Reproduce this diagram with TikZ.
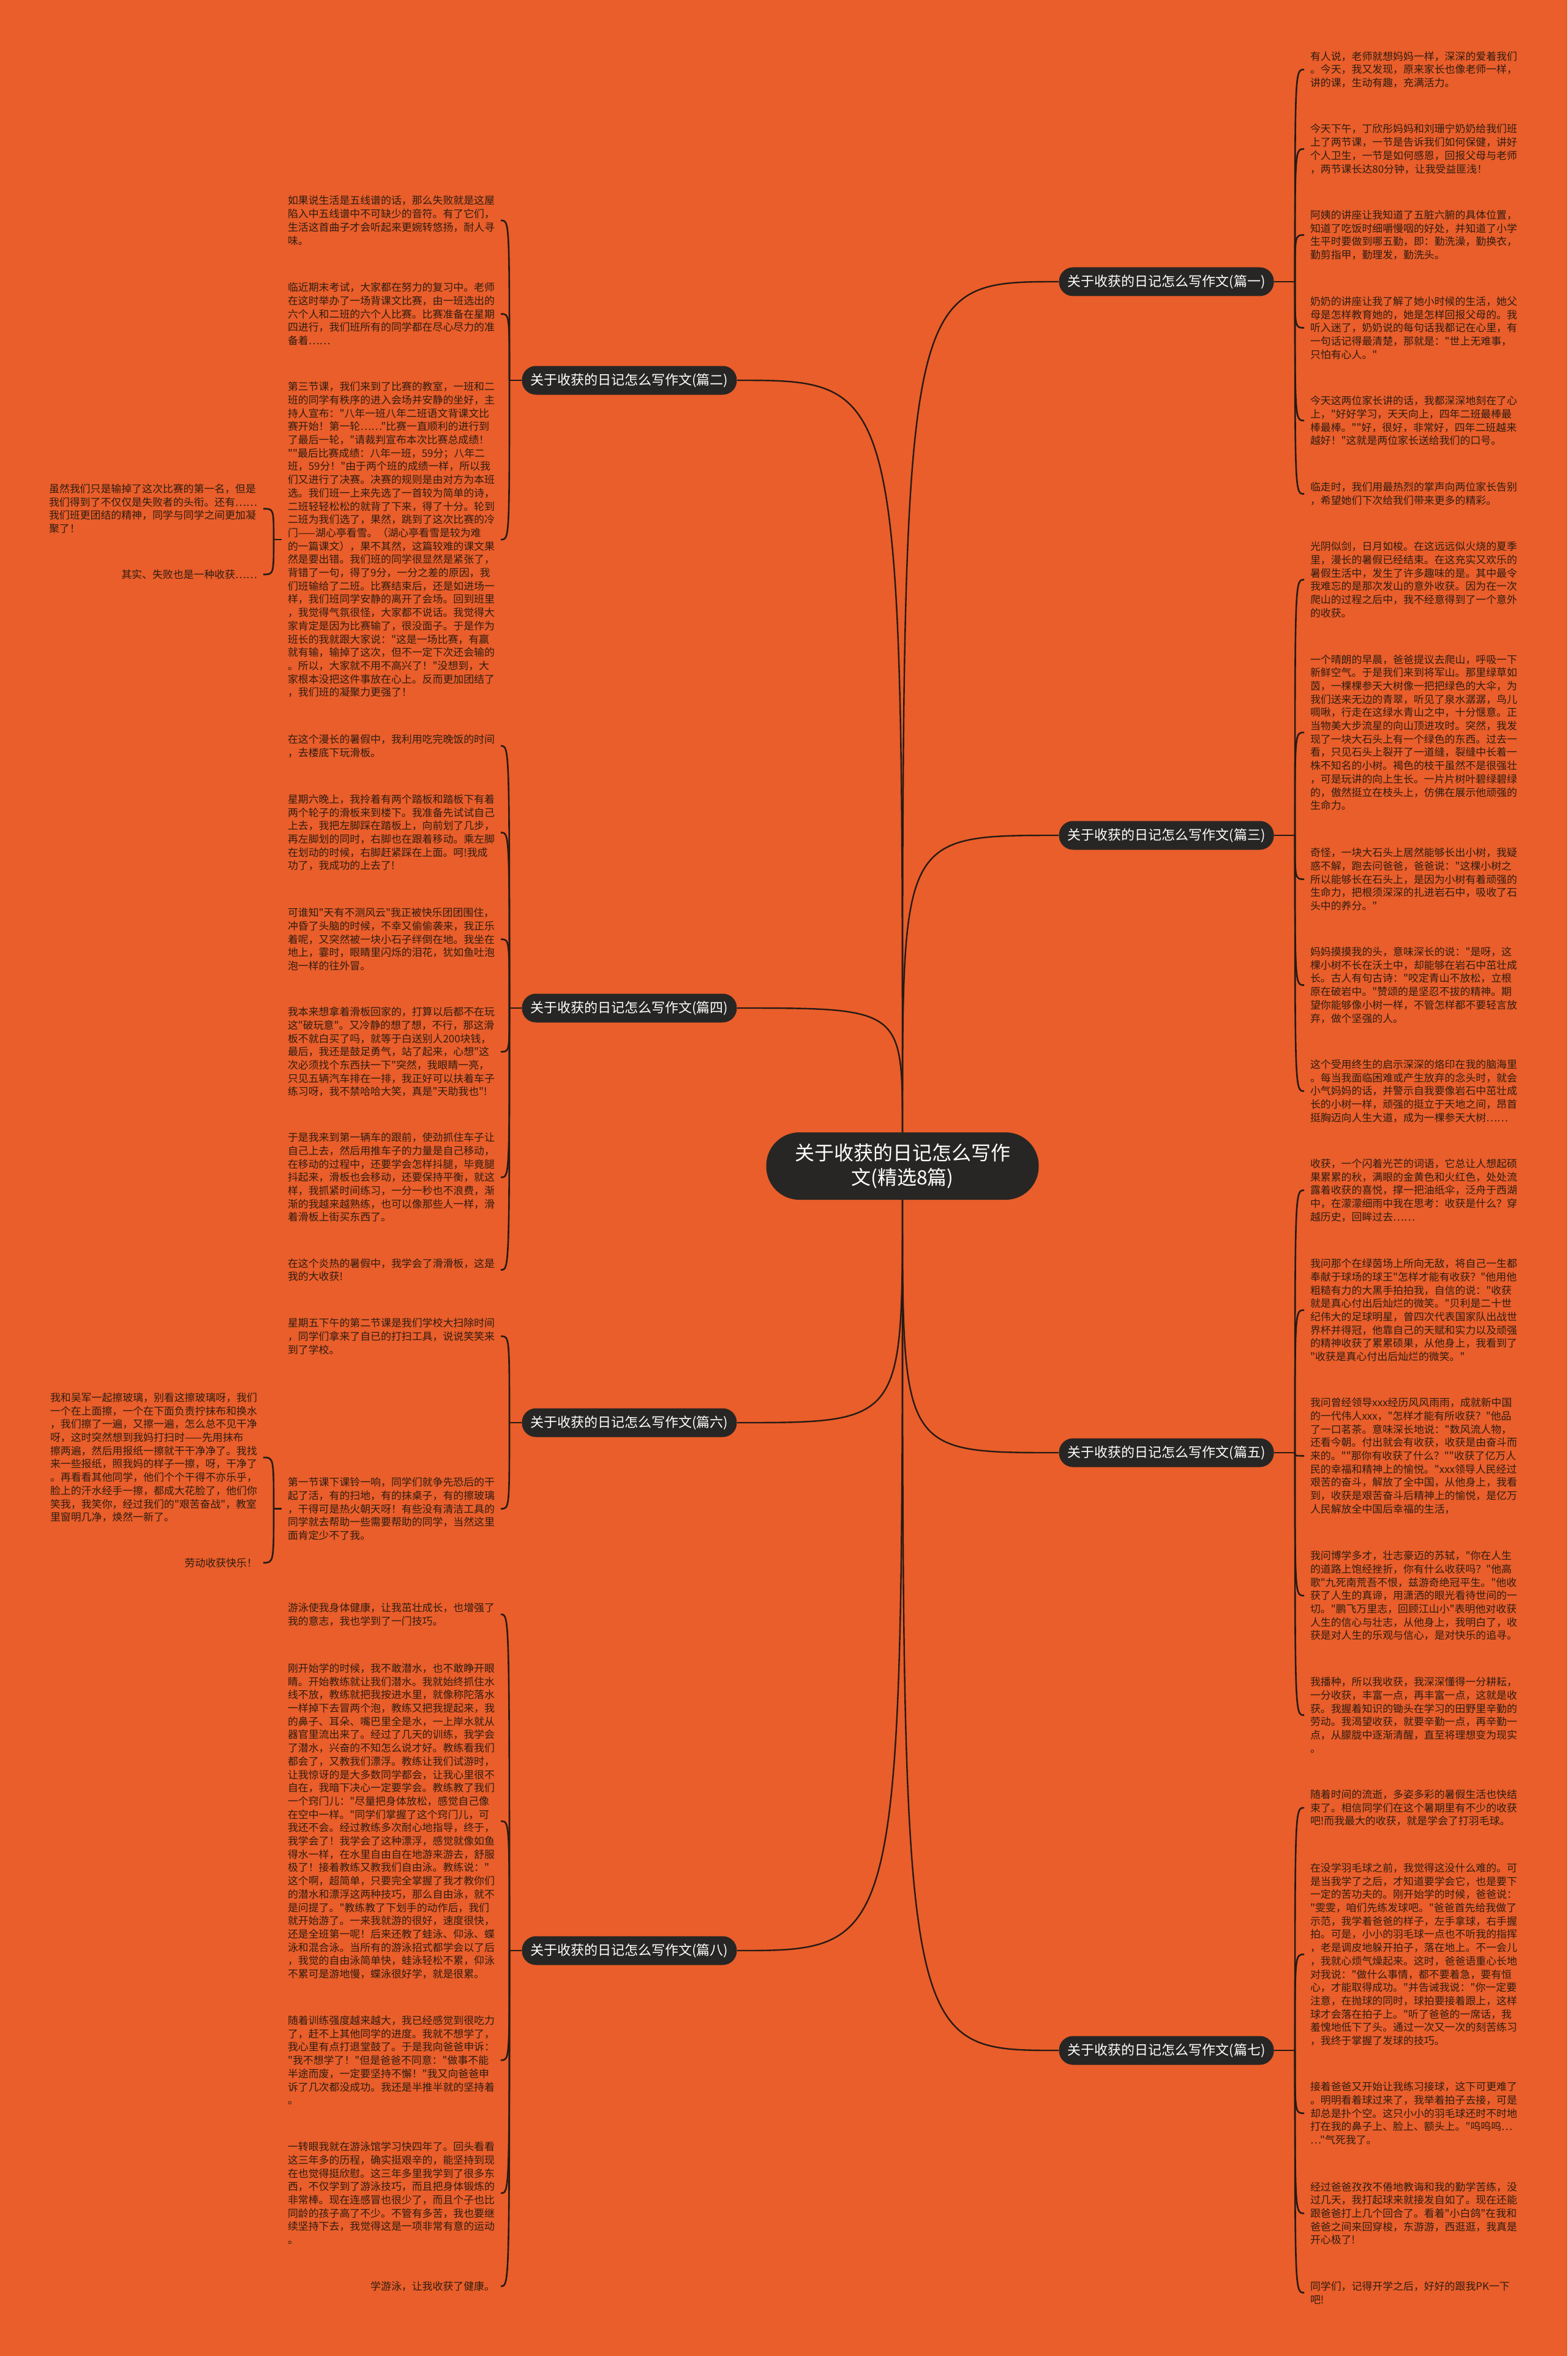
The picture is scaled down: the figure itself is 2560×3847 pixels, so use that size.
\documentclass[tikz,border=0pt]{standalone}
\usepackage{fontspec}
\newfontfamily\cjk{Noto Sans CJK SC}
\usetikzlibrary{calc}

\definecolor{bgorange}{RGB}{233,94,42}
\definecolor{topicdark}{RGB}{40,38,36}
\definecolor{inkbrown}{RGB}{48,28,18}
\definecolor{linedark}{RGB}{38,26,20}

\begin{document}
\begin{tikzpicture}[x=0.5pt, y=-0.5pt,
  maintopic/.style={fill=topicdark, text=white, align=center, font=\cjk\fontsize{16pt}{20pt}\selectfont, minimum width=222.5pt, minimum height=55pt, rounded corners=27pt, inner sep=0pt},
  subtopic/.style={fill=topicdark, text=white, font=\cjk\fontsize{11pt}{13pt}\selectfont, minimum width=175.5pt, minimum height=23.5pt, rounded corners=11.5pt, inner sep=0pt},
  leaf/.style={text=inkbrown, align=left, font=\cjk\fontsize{8.45pt}{10.85pt}\selectfont, inner sep=0pt, outer sep=5pt},
  link/.style={draw=linedark, line width=1.2pt},
  bracelink/.style={draw=linedark, line width=1.3pt}]

  \useasboundingbox (0,0) rectangle (2560,3847);
  \fill[bgorange] (0,0) rectangle (2560,3847);

  % centre and branches
  \node[maintopic] (root) at (1474,1904) {关于收获的日记怎么写作\\文(精选8篇)};

  \node[subtopic, anchor=east] (b1) at (2081,460) {关于收获的日记怎么写作文(篇一)};
  \node[subtopic, anchor=west] (b2) at (852,621) {关于收获的日记怎么写作文(篇二)};
  \node[subtopic, anchor=east] (b3) at (2081,1364) {关于收获的日记怎么写作文(篇三)};
  \node[subtopic, anchor=west] (b4) at (852,1646) {关于收获的日记怎么写作文(篇四)};
  \node[subtopic, anchor=east] (b5) at (2081,2372) {关于收获的日记怎么写作文(篇五)};
  \node[subtopic, anchor=west] (b6) at (852,2323) {关于收获的日记怎么写作文(篇六)};
  \node[subtopic, anchor=east] (b7) at (2081,3348) {关于收获的日记怎么写作文(篇七)};
  \node[subtopic, anchor=west] (b8) at (852,3185) {关于收获的日记怎么写作文(篇八)};

  % right column
  \node[leaf, anchor=west] (p1) at (2130,113.6) {有人说，老师就想妈妈一样，深深的爱着我们\\
。今天，我又发现，原来家长也像老师一样，\\
讲的课，生动有趣，充满活力。};
  \node[leaf, anchor=west] (p2) at (2130,243.3) {今天下午，丁欣彤妈妈和刘珊宁奶奶给我们班\\
上了两节课，一节是告诉我们如何保健，讲好\\
个人卫生，一节是如何感恩，回报父母与老师\\
，两节课长达80分钟，让我受益匪浅！};
  \node[leaf, anchor=west] (p3) at (2130,383.7) {阿姨的讲座让我知道了五脏六腑的具体位置，\\
知道了吃饭时细嚼慢咽的好处，并知道了小学\\
生平时要做到哪五勤，即：勤洗澡，勤换衣，\\
勤剪指甲，勤理发，勤洗头。};
  \node[leaf, anchor=west] (p4) at (2130,535.3) {奶奶的讲座让我了解了她小时候的生活，她父\\
母是怎样教育她的，她是怎样回报父母的。我\\
听入迷了，奶奶说的每句话我都记在心里，有\\
一句话记得最清楚，那就是："世上无难事，\\
只怕有心人。"};
  \node[leaf, anchor=west] (p5) at (2130,686.7) {今天这两位家长讲的话，我都深深地刻在了心\\
上，"好好学习，天天向上，四年二班最棒最\\
棒最棒。""好，很好，非常好，四年二班越来\\
越好！"这就是两位家长送给我们的口号。};
  \node[leaf, anchor=west] (p6) at (2130,806.5) {临走时，我们用最热烈的掌声向两位家长告别\\
，希望她们下次给我们带来更多的精彩。};

  \node[leaf, anchor=west] (p7) at (2130,946.5) {光阴似剑，日月如梭。在这远远似火烧的夏季\\
里，漫长的暑假已经结束。在这充实又欢乐的\\
暑假生活中，发生了许多趣味的是。其中最令\\
我难忘的是那次发山的意外收获。因为在一次\\
爬山的过程之后中，我不经意得到了一个意外\\
的收获。};
  \node[leaf, anchor=west] (p8) at (2130,1196) {一个晴朗的早晨，爸爸提议去爬山，呼吸一下\\
新鲜空气。于是我们来到将军山。那里绿草如\\
茵，一棵棵参天大树像一把把绿色的大伞，为\\
我们送来无边的青翠，听见了泉水潺潺，鸟儿\\
啁啾，行走在这绿水青山之中，十分惬意。正\\
当物美大步流星的向山顶进攻时。突然，我发\\
现了一块大石头上有一个绿色的东西。过去一\\
看，只见石头上裂开了一道缝，裂缝中长着一\\
株不知名的小树。褐色的枝干虽然不是很强壮\\
，可是玩讲的向上生长。一片片树叶碧绿碧绿\\
的，傲然挺立在枝头上，仿佛在展示他顽强的\\
生命力。};
  \node[leaf, anchor=west] (p9) at (2130,1435.6) {奇怪，一块大石头上居然能够长出小树，我疑\\
惑不解，跑去问爸爸，爸爸说："这棵小树之\\
所以能够长在石头上，是因为小树有着顽强的\\
生命力，把根须深深的扎进岩石中，吸收了石\\
头中的养分。"};
  \node[leaf, anchor=west] (p10) at (2130,1608.5) {妈妈摸摸我的头，意味深长的说："是呀，这\\
棵小树不长在沃土中，却能够在岩石中茁壮成\\
长。古人有句古诗："咬定青山不放松，立根\\
原在破岩中。"赞颂的是坚忍不拔的精神。期\\
望你能够像小树一样，不管怎样都不要轻言放\\
弃，做个坚强的人。};
  \node[leaf, anchor=west] (p11) at (2130,1781.6) {这个受用终生的启示深深的烙印在我的脑海里\\
。每当我面临困难或产生放弃的念头时，就会\\
小气妈妈的话，并警示自我要像岩石中茁壮成\\
长的小树一样，顽强的挺立于天地之间，昂首\\
挺胸迈向人生大道，成为一棵参天大树……};

  \node[leaf, anchor=west] (p12) at (2130,1943.6) {收获，一个闪着光芒的词语，它总让人想起硕\\
果累累的秋，满眼的金黄色和火红色，处处流\\
露着收获的喜悦，撑一把油纸伞，泛舟于西湖\\
中，在濛濛细雨中我在思考：收获是什么？穿\\
越历史，回眸过去……};
  \node[leaf, anchor=west] (p13) at (2130,2139.3) {我问那个在绿茵场上所向无敌，将自己一生都\\
奉献于球场的球王"怎样才能有收获？"他用他\\
粗糙有力的大黑手拍拍我，自信的说："收获\\
就是真心付出后灿烂的微笑。"贝利是二十世\\
纪伟大的足球明星，曾四次代表国家队出战世\\
界杯并得冠，他靠自己的天赋和实力以及顽强\\
的精神收获了累累硕果，从他身上，我看到了\\
"收获是真心付出后灿烂的微笑。"};
  \node[leaf, anchor=west] (p14) at (2130,2377.2) {我问曾经领导xxx经历风风雨雨，成就新中国\\
的一代伟人xxx，"怎样才能有所收获？"他品\\
了一口茗茶。意味深长地说："数风流人物，\\
还看今朝。付出就会有收获，收获是由奋斗而\\
来的。""那你有收获了什么？""收获了亿万人\\
民的幸福和精神上的愉悦。"xxx领导人民经过\\
艰苦的奋斗，解放了全中国，从他身上，我看\\
到，收获是艰苦奋斗后精神上的愉悦，是亿万\\
人民解放全中国后幸福的生活，};
  \node[leaf, anchor=west] (p15) at (2130,2605.4) {我问博学多才，壮志豪迈的苏轼，"你在人生\\
的道路上饱经挫折，你有什么收获吗？"他高\\
歌"九死南荒吾不恨，兹游奇绝冠平生。"他收\\
获了人生的真谛，用潇洒的眼光看待世间的一\\
切。"鹏飞万里志，回顾江山小"表明他对收获\\
人生的信心与壮志，从他身上，我明白了，收\\
获是对人生的乐观与信心，是对快乐的追寻。};
  \node[leaf, anchor=west] (p16) at (2130,2800.5) {我播种，所以我收获，我深深懂得一分耕耘，\\
一分收获，丰富一点，再丰富一点，这就是收\\
获。我握着知识的锄头在学习的田野里辛勤的\\
劳动。我渴望收获，就要辛勤一点，再辛勤一\\
点，从朦胧中逐渐清醒，直至将理想变为现实\\
。};

  \node[leaf, anchor=west] (p17) at (2130,2951.8) {随着时间的流逝，多姿多彩的暑假生活也快结\\
束了。相信同学们在这个暑期里有不少的收获\\
吧!而我最大的收获，就是学会了打羽毛球。};
  \node[leaf, anchor=west] (p18) at (2130,3191.2) {在没学羽毛球之前，我觉得这没什么难的。可\\
是当我学了之后，才知道要学会它，也是要下\\
一定的苦功夫的。刚开始学的时候，爸爸说：\\
"雯雯，咱们先练发球吧。"爸爸首先给我做了\\
示范，我学着爸爸的样子，左手拿球，右手握\\
拍。可是，小小的羽毛球一点也不听我的指挥\\
，老是调皮地躲开拍子，落在地上。不一会儿\\
，我就心烦气燥起来。这时，爸爸语重心长地\\
对我说："做什么事情，都不要着急，要有恒\\
心，才能取得成功。"并告诫我说："你一定要\\
注意，在抛球的同时，球拍要接着跟上，这样\\
球才会落在拍子上。"听了爸爸的一席话，我\\
羞愧地低下了头。通过一次又一次的刻苦练习\\
，我终于掌握了发球的技巧。};
  \node[leaf, anchor=west] (p19) at (2130,3450.6) {接着爸爸又开始让我练习接球，这下可更难了\\
。明明看着球过来了，我举着拍子去接，可是\\
却总是扑个空。这只小小的羽毛球还时不时地\\
打在我的鼻子上、脸上、额头上。"呜呜呜…\\
…"气死我了。};
  \node[leaf, anchor=west] (p20) at (2130,3614) {经过爸爸孜孜不倦地教诲和我的勤学苦练，没\\
过几天，我打起球来就接发自如了。现在还能\\
跟爸爸打上几个回合了。看着"小白鸽"在我和\\
爸爸之间来回穿梭，东游游，西逛逛，我真是\\
开心极了!};
  \node[leaf, anchor=west] (p21) at (2130,3743.5) {同学们，记得开学之后，好好的跟我PK一下\\
吧!};

  % left column
  \node[leaf, anchor=east] (l1) at (818,360) {如果说生活是五线谱的话，那么失败就是这屋\\
陷入中五线谱中不可缺少的音符。有了它们，\\
生活这首曲子才会听起来更婉转悠扬，耐人寻\\
味。};
  \node[leaf, anchor=east] (l2) at (818,512.6) {临近期末考试，大家都在努力的复习中。老师\\
在这时举办了一场背课文比赛，由一班选出的\\
六个人和二班的六个人比赛。比赛准备在星期\\
四进行，我们班所有的同学都在尽心尽力的准\\
备着……};
  \node[leaf, anchor=east] (l3) at (818,881) {第三节课，我们来到了比赛的教室，一班和二\\
班的同学有秩序的进入会场并安静的坐好，主\\
持人宣布："八年一班八年二班语文背课文比\\
赛开始！第一轮……"比赛一直顺利的进行到\\
了最后一轮，"请裁判宣布本次比赛总成绩！\\
""最后比赛成绩：八年一班，59分；八年二\\
班，59分！"由于两个班的成绩一样，所以我\\
们又进行了决赛。决赛的规则是由对方为本班\\
选。我们班一上来先选了一首较为简单的诗，\\
二班轻轻松松的就背了下来，得了十分。轮到\\
二班为我们选了，果然，跳到了这次比赛的冷\\
门——湖心亭看雪。（湖心亭看雪是较为难\\
的一篇课文），果不其然，这篇较难的课文果\\
然是要出错。我们班的同学很显然是紧张了，\\
背错了一句，得了9分，一分之差的原因，我\\
们班输给了二班。比赛结束后，还是如进场一\\
样，我们班同学安静的离开了会场。回到班里\\
，我觉得气氛很怪，大家都不说话。我觉得大\\
家肯定是因为比赛输了，很没面子。于是作为\\
班长的我就跟大家说："这是一场比赛，有赢\\
就有输，输掉了这次，但不一定下次还会输的\\
。所以，大家就不用不高兴了！"没想到，大\\
家根本没把这件事放在心上。反而更加团结了\\
，我们班的凝聚力更强了！};
  \node[leaf, anchor=east] (f1) at (430,830.7) {虽然我们只是输掉了这次比赛的第一名，但是\\
我们得到了不仅仅是失败者的头衔。还有……\\
我们班更团结的精神，同学与同学之间更加凝\\
聚了！};
  \node[leaf, anchor=east] (f2) at (430,938) {其实、失败也是一种收获……};

  \node[leaf, anchor=east] (l4) at (818,1218) {在这个漫长的暑假中，我利用吃完晚饭的时间\\
，去楼底下玩滑板。};
  \node[leaf, anchor=east] (l5) at (818,1359.5) {星期六晚上，我拎着有两个踏板和踏板下有着\\
两个轮子的滑板来到楼下。我准备先试试自己\\
上去，我把左脚踩在踏板上，向前划了几步，\\
再左脚划的同时，右脚也在跟着移动。乘左脚\\
在划动的时候，右脚赶紧踩在上面。呵!我成\\
功了，我成功的上去了!};
  \node[leaf, anchor=east] (l6) at (818,1533.6) {可谁知"天有不测风云"我正被快乐团团围住，\\
冲昏了头脑的时候，不幸又偷偷袭来，我正乐\\
着呢，又突然被一块小石子绊倒在地。我坐在\\
地上，霎时，眼睛里闪烁的泪花，犹如鱼吐泡\\
泡一样的往外冒。};
  \node[leaf, anchor=east] (l7) at (818,1717.4) {我本来想拿着滑板回家的，打算以后都不在玩\\
这"破玩意"。又冷静的想了想，不行，那这滑\\
板不就白买了吗，就等于白送别人200块钱，\\
最后，我还是鼓足勇气，站了起来，心想"这\\
次必须找个东西扶一下"突然，我眼睛一亮，\\
只见五辆汽车排在一排，我正好可以扶着车子\\
练习呀，我不禁哈哈大笑，真是"天助我也"!};
  \node[leaf, anchor=east] (l8) at (818,1922.4) {于是我来到第一辆车的跟前，使劲抓住车子让\\
自己上去，然后用推车子的力量是自己移动，\\
在移动的过程中，还要学会怎样抖腿，毕竟腿\\
抖起来，滑板也会移动，还要保持平衡，就这\\
样，我抓紧时间练习，一分一秒也不浪费，渐\\
渐的我越来越熟练，也可以像那些人一样，滑\\
着滑板上街买东西了。};
  \node[leaf, anchor=east] (l9) at (818,2073.5) {在这个炎热的暑假中，我学会了滑滑板，这是\\
我的大收获!};

  \node[leaf, anchor=east] (l10) at (818,2181.8) {星期五下午的第二节课是我们学校大扫除时间\\
，同学们拿来了自已的打扫工具，说说笑笑来\\
到了学校。};
  \node[leaf, anchor=east] (l11) at (818,2463.6) {第一节课下课铃一响，同学们就争先恐后的干\\
起了活，有的扫地，有的抹桌子，有的擦玻璃\\
，干得可是热火朝天呀！有些没有清洁工具的\\
同学就去帮助一些需要帮助的同学，当然这里\\
面肯定少不了我。};
  \node[leaf, anchor=east] (f3) at (430,2379.8) {我和吴军一起擦玻璃，别看这擦玻璃呀，我们\\
一个在上面擦，一个在下面负责拧抹布和换水\\
，我们擦了一遍，又擦一遍，怎么总不见干净\\
呀，这时突然想到我妈打扫时——先用抹布\\
擦两遍，然后用报纸一擦就干干净净了。我找\\
来一些报纸，照我妈的样子一擦，呀，干净了\\
。再看看其他同学，他们个个干得不亦乐乎，\\
脸上的汗水经手一擦，都成大花脸了，他们你\\
笑我，我笑你，经过我们的"艰苦奋战"，教室\\
里窗明几净，焕然一新了。};
  \node[leaf, anchor=east] (f4) at (430,2551.7) {劳动收获快乐！};

  \node[leaf, anchor=east] (l12) at (818,2636) {游泳使我身体健康，让我茁壮成长，也增强了\\
我的意志，我也学到了一门技巧。};
  \node[leaf, anchor=east] (l13) at (818,2973.7) {刚开始学的时候，我不敢潜水，也不敢睁开眼\\
睛。开始教练就让我们潜水。我就始终抓住水\\
线不放，教练就把我按进水里，就像称陀落水\\
一样掉下去冒两个泡，教练又把我提起来，我\\
的鼻子、耳朵、嘴巴里全是水，一上岸水就从\\
器官里流出来了。经过了几天的训练，我学会\\
了潜水，兴奋的不知怎么说才好。教练看我们\\
都会了，又教我们漂浮。教练让我们试游时，\\
让我惊讶的是大多数同学都会，让我心里很不\\
自在，我暗下决心一定要学会。教练教了我们\\
一个窍门儿："尽量把身体放松，感觉自己像\\
在空中一样。"同学们掌握了这个窍门儿，可\\
我还不会。经过教练多次耐心地指导，终于，\\
我学会了！我学会了这种漂浮，感觉就像如鱼\\
得水一样，在水里自由自在地游来游去，舒服\\
极了！接着教练又教我们自由泳。教练说："\\
这个啊，超简单，只要完全掌握了我才教你们\\
的潜水和漂浮这两种技巧，那么自由泳，就不\\
是问提了。"教练教了下划手的动作后，我们\\
就开始游了。一来我就游的很好，速度很快，\\
还是全班第一呢！后来还教了蛙泳、仰泳、蝶\\
泳和混合泳。当所有的游泳招式都学会以了后\\
，我觉的自由泳简单快，蛙泳轻松不累，仰泳\\
不累可是游地慢，蝶泳很好学，就是很累。};
  \node[leaf, anchor=east] (l14) at (818,3364) {随着训练强度越来越大，我已经感觉到很吃力\\
了，赶不上其他同学的进度。我就不想学了，\\
我心里有点打退堂鼓了。于是我向爸爸申诉：\\
"我不想学了！"但是爸爸不同意："做事不能\\
半途而废，一定要坚持不懈！"我又向爸爸申\\
诉了几次都没成功。我还是半推半就的坚持着\\
。};
  \node[leaf, anchor=east] (l15) at (818,3581) {一转眼我就在游泳馆学习快四年了。回头看看\\
这三年多的历程，确实挺艰辛的，能坚持到现\\
在也觉得挺欣慰。这三年多里我学到了很多东\\
西，不仅学到了游泳技巧，而且把身体锻炼的\\
非常棒。现在连感冒也很少了，而且个子也比\\
同龄的孩子高了不少。不管有多苦，我也要继\\
续坚持下去，我觉得这是一项非常有意的运动\\
。};
  \node[leaf, anchor=east] (l16) at (818,3733) {学游泳，让我收获了健康。};

  % centre to branches
  \draw[link] (root.north) .. controls (root.north |- b1.west) .. (b1.west);
  \draw[link] (root.north) .. controls (root.north |- b2.east) .. (b2.east);
  \draw[link] (root.north) .. controls (root.north |- b3.west) .. (b3.west);
  \draw[link] (root.north) .. controls (root.north |- b4.east) .. (b4.east);
  \draw[link] (root.south) .. controls (root.south |- b5.west) .. (b5.west);
  \draw[link] (root.south) .. controls (root.south |- b6.east) .. (b6.east);
  \draw[link] (root.south) .. controls (root.south |- b7.west) .. (b7.west);
  \draw[link] (root.south) .. controls (root.south |- b8.east) .. (b8.east);

  % braces on the right
  \coordinate (j1) at (2115,460);
  \coordinate (j3) at (2115,1364);
  \coordinate (j5) at (2115,2372);
  \coordinate (j7) at (2115,3348);

  \draw[bracelink] (b1.east) -- (j1);
  \draw[bracelink] (j1) .. controls (j1 |- p1.west) .. (p1.west);
  \draw[bracelink] (j1) .. controls (j1 |- p2.west) .. (p2.west);
  \draw[bracelink] (j1) .. controls (j1 |- p3.west) .. (p3.west);
  \draw[bracelink] (j1) .. controls (j1 |- p4.west) .. (p4.west);
  \draw[bracelink] (j1) .. controls (j1 |- p5.west) .. (p5.west);
  \draw[bracelink] (j1) .. controls (j1 |- p6.west) .. (p6.west);

  \draw[bracelink] (b3.east) -- (j3);
  \draw[bracelink] (j3) .. controls (j3 |- p7.west) .. (p7.west);
  \draw[bracelink] (j3) .. controls (j3 |- p8.west) .. (p8.west);
  \draw[bracelink] (j3) .. controls (j3 |- p9.west) .. (p9.west);
  \draw[bracelink] (j3) .. controls (j3 |- p10.west) .. (p10.west);
  \draw[bracelink] (j3) .. controls (j3 |- p11.west) .. (p11.west);

  \draw[bracelink] (b5.east) -- (j5);
  \draw[bracelink] (j5) .. controls (j5 |- p12.west) .. (p12.west);
  \draw[bracelink] (j5) .. controls (j5 |- p13.west) .. (p13.west);
  \draw[bracelink] (j5) .. controls (j5 |- p14.west) .. (p14.west);
  \draw[bracelink] (j5) .. controls (j5 |- p15.west) .. (p15.west);
  \draw[bracelink] (j5) .. controls (j5 |- p16.west) .. (p16.west);

  \draw[bracelink] (b7.east) -- (j7);
  \draw[bracelink] (j7) .. controls (j7 |- p17.west) .. (p17.west);
  \draw[bracelink] (j7) .. controls (j7 |- p18.west) .. (p18.west);
  \draw[bracelink] (j7) .. controls (j7 |- p19.west) .. (p19.west);
  \draw[bracelink] (j7) .. controls (j7 |- p20.west) .. (p20.west);
  \draw[bracelink] (j7) .. controls (j7 |- p21.west) .. (p21.west);

  % braces on the left
  \coordinate (j2) at (832,621);
  \coordinate (j4) at (832,1646);
  \coordinate (j6) at (832,2323);
  \coordinate (j8) at (832,3185);
  \coordinate (k3) at (447,881);
  \coordinate (k11) at (447,2463.6);

  \draw[bracelink] (b2.west) -- (j2);
  \draw[bracelink] (j2) .. controls (j2 |- l1.east) .. (l1.east);
  \draw[bracelink] (j2) .. controls (j2 |- l2.east) .. (l2.east);
  \draw[bracelink] (j2) .. controls (j2 |- l3.east) .. (l3.east);
  \draw[bracelink] (l3.west) -- (k3);
  \draw[bracelink] (k3) .. controls (k3 |- f1.east) .. (f1.east);
  \draw[bracelink] (k3) .. controls (k3 |- f2.east) .. (f2.east);

  \draw[bracelink] (b4.west) -- (j4);
  \draw[bracelink] (j4) .. controls (j4 |- l4.east) .. (l4.east);
  \draw[bracelink] (j4) .. controls (j4 |- l5.east) .. (l5.east);
  \draw[bracelink] (j4) .. controls (j4 |- l6.east) .. (l6.east);
  \draw[bracelink] (j4) .. controls (j4 |- l7.east) .. (l7.east);
  \draw[bracelink] (j4) .. controls (j4 |- l8.east) .. (l8.east);
  \draw[bracelink] (j4) .. controls (j4 |- l9.east) .. (l9.east);

  \draw[bracelink] (b6.west) -- (j6);
  \draw[bracelink] (j6) .. controls (j6 |- l10.east) .. (l10.east);
  \draw[bracelink] (j6) .. controls (j6 |- l11.east) .. (l11.east);
  \draw[bracelink] (l11.west) -- (k11);
  \draw[bracelink] (k11) .. controls (k11 |- f3.east) .. (f3.east);
  \draw[bracelink] (k11) .. controls (k11 |- f4.east) .. (f4.east);

  \draw[bracelink] (b8.west) -- (j8);
  \draw[bracelink] (j8) .. controls (j8 |- l12.east) .. (l12.east);
  \draw[bracelink] (j8) .. controls (j8 |- l13.east) .. (l13.east);
  \draw[bracelink] (j8) .. controls (j8 |- l14.east) .. (l14.east);
  \draw[bracelink] (j8) .. controls (j8 |- l15.east) .. (l15.east);
  \draw[bracelink] (j8) .. controls (j8 |- l16.east) .. (l16.east);

\end{tikzpicture}
\end{document}
